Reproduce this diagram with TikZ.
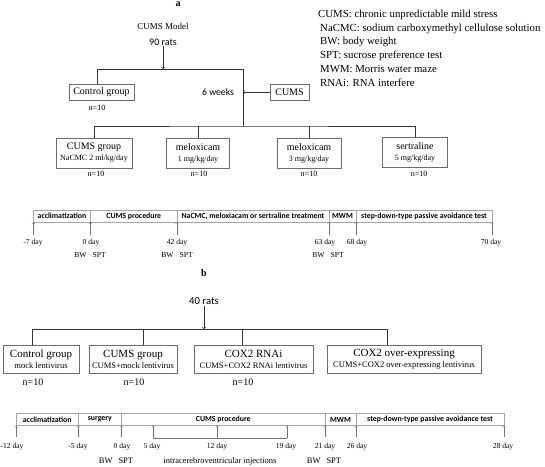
\documentclass[tikz,border=0pt]{standalone}
\usepackage{fontspec}
\setmainfont{Liberation Serif}
\setsansfont{Carlito}
\usetikzlibrary{calc}
\tikzset{
  box/.style={draw=gray!85!black, line width=0.5pt, inner sep=1pt, align=center, minimum height=16pt},
  grp/.style={box, minimum height=30pt},
  tree/.style={draw=black!80, line width=0.6pt},
  cell/.style={draw=gray!70, line width=0.4pt, inner sep=0pt, minimum height=12pt, font=\sffamily\bfseries\fontsize{7.8}{9}\selectfont},
  day/.style={inner sep=0pt, font=\fontsize{7.6}{9}\selectfont},
  tick/.style={->, draw=gray!90!black, line width=0.35pt},
  legend/.style={anchor=west, inner sep=0pt, font=\fontsize{10.8}{12}\selectfont},
}

\begin{document}
\begin{tikzpicture}[x=1pt, y=-1pt]
    \path[use as bounding box] (0,0) rectangle (545,466);

    % part a
    \node[font=\bfseries\fontsize{10}{12}\selectfont] (tagA) at (178,4) {a};
    \node[font=\fontsize{9}{11}\selectfont] (mA) at (163,26) {CUMS Model};
    \node[font=\sffamily\fontsize{10}{12}\selectfont, inner sep=1pt] (rA) at (163,42) {90 rats};

    \node[legend] (lg1) at (318,15)   {CUMS: chronic unpredictable mild stress};
    \node[legend] (lg2) at (320,28.5) {NaCMC: sodium carboxymethyl cellulose solution};
    \node[legend] (lg3) at (320,42)   {BW: body weight};
    \node[legend] (lg4) at (320,55.5) {SPT: sucrose preference test};
    \node[legend] (lg5) at (320,69)   {MWM: Morris water maze};
    \node[legend] (lg6) at (320,82.5) {RNAi: RNA interfere};

    \node[box, minimum width=65pt, font=\fontsize{10}{12}\selectfont] (cA) at (101.5,92) {Control group};
    \node[font=\fontsize{8}{10}\selectfont] (nA0) at (97,108) {n=10};
    \node[font=\sffamily\fontsize{9.7}{12}\selectfont] (wA) at (218,92) {6 weeks};
    \node[box, minimum width=39pt, font=\fontsize{10}{12}\selectfont] (sA) at (289.5,92) {CUMS};

    \coordinate (jA) at (163,69);
    \coordinate (lA) at (97,69);
    \coordinate (tA) at (243,69);
    \coordinate (bA) at (243,126);
    \draw[tree,->] (rA) -- (jA);
    \draw[tree] (lA |- cA.north) -- (lA) -- (tA) -- (bA);
    \draw[tree,->] (sA) -- (sA -| tA);

    \node[grp, minimum width=76pt, font=\fontsize{10}{12}\selectfont] (gA1) at (94,153)
        {CUMS group\\[-1pt]{\fontsize{8}{10}\selectfont NaCMC 2 ml/kg/day}};
    \node[grp, minimum width=63pt, font=\fontsize{10}{12}\selectfont] (gA2) at (198,153)
        {meloxicam\\[-1pt]{\fontsize{8}{10}\selectfont 1 mg/kg/day}};
    \node[grp, minimum width=64pt, font=\fontsize{10}{12}\selectfont] (gA3) at (309,153)
        {meloxicam\\[-1pt]{\fontsize{8}{10}\selectfont 3 mg/kg/day}};
    \node[grp, minimum width=65pt, font=\fontsize{10}{12}\selectfont] (gA4) at (415,152)
        {sertraline\\[-1pt]{\fontsize{8}{10}\selectfont 5 mg/kg/day}};
    \draw[tree] (gA1.north) |- (bA) -| (gA4.north);
    \draw[tree] (gA2.north) -- (gA2.north |- bA);
    \draw[tree] (gA3.north) -- (gA3.north |- bA);

    \node[font=\fontsize{8}{10}\selectfont] (nA1) at (96,174) {n=10};
    \node[font=\fontsize{8}{10}\selectfont] (nA2) at (199,174) {n=10};
    \node[font=\fontsize{8}{10}\selectfont] (nA3) at (309,174) {n=10};
    \node[font=\fontsize{8}{10}\selectfont] (nA4) at (419,174) {n=10};

    % timeline a
    \node[cell, minimum width=57.2pt] (tA1) at (62,216)    {acclimatization};
    \node[cell, minimum width=86.4pt] (tA2) at (133.8,216) {CUMS procedure};
    \node[cell, minimum width=152pt]  (tA3) at (253,216)   {NaCMC, meloxiacam or sertraline treatment};
    \node[cell, minimum width=27pt]   (tA4) at (342.5,216) {MWM};
    \node[cell, minimum width=136pt]  (tA5) at (424,216)   {step-down-type passive avoidance test};

    \foreach \x/\n in {33.4/0, 90.6/1, 177/2, 329/3, 356/4, 492/5} {
        \coordinate (pA\n) at (\x,235);
        \draw[tick] (pA\n) -- (pA\n |- tA1.south);
    }
    \node[day] (dA0) at (33,243)  {-7 day};
    \node[day] (dA1) at (91,243)  {0 day};
    \node[day] (dA2) at (177,243) {42 day};
    \node[day] (dA3) at (325,243) {63 day};
    \node[day] (dA4) at (357,243) {68 day};
    \node[day] (dA5) at (491,243) {70 day};
    \node[day] (bwA1) at (90,255)  {BW\hspace{6pt}SPT};
    \node[day] (bwA2) at (177,255) {BW\hspace{6pt}SPT};
    \node[day] (bwA3) at (328,255) {BW\hspace{6pt}SPT};

    % part b
    \node[font=\bfseries\fontsize{10}{12}\selectfont] (tagB) at (204,273) {b};
    \node[font=\sffamily\fontsize{10.7}{12}\selectfont, inner sep=1pt] (rB) at (204,301) {40 rats};

    \node[grp, minimum height=28pt, minimum width=76pt, font=\fontsize{11}{13}\selectfont] (gB1) at (41,359)
        {Control group\\[-2pt]{\fontsize{8.5}{10}\selectfont mock lentivirus}};
    \node[grp, minimum height=28pt, minimum width=88pt, font=\fontsize{11}{13}\selectfont] (gB2) at (133,359)
        {CUMS group\\[-2pt]{\fontsize{8.5}{10}\selectfont CUMS+mock lentivirus}};
    \node[grp, minimum height=28pt, minimum width=119pt, font=\fontsize{11}{13}\selectfont] (gB3) at (253.5,359)
        {COX2 RNAi\\[-2pt]{\fontsize{8.5}{10}\selectfont CUMS+COX2 RNAi lentivirus}};
    \node[grp, minimum height=28pt, minimum width=154pt, font=\fontsize{11}{13}\selectfont] (gB4) at (404,359)
        {COX2 over-expressing\\[-2pt]{\fontsize{8.5}{10}\selectfont CUMS+COX2 over-expressing lentivirus}};

    \coordinate (jB) at (204,329);
    \coordinate (hB1) at (32,329);
    \coordinate (hB2) at (143,329);
    \coordinate (hB3) at (242,329);
    \coordinate (hB4) at (387,329);
    \draw[tree,->] (rB) -- (jB);
    \draw[tree] (hB1 |- gB1.north) -- (hB1) -- (hB4) -- (hB4 |- gB4.north);
    \draw[tree] (hB2) -- (hB2 |- gB2.north);
    \draw[tree] (hB3) -- (hB3 |- gB3.north);

    \node[font=\fontsize{10}{12}\selectfont] (nB1) at (33,382)  {n=10};
    \node[font=\fontsize{10}{12}\selectfont] (nB2) at (134,382) {n=10};
    \node[font=\fontsize{10}{12}\selectfont] (nB3) at (243,382) {n=10};

    % timeline b
    \begin{scope}[every node/.append style={font=\sffamily\bfseries\fontsize{8.5}{10}\selectfont}]
    \node[cell, minimum width=61.7pt] (tB1) at (47.2,419.5)  {acclimatization};
    \node[cell, minimum width=43.5pt] (tB2) at (99.8,419.5)  {surgery};
    \node[cell, minimum width=203.5pt] (tB3) at (223.3,419.5) {CUMS procedure};
    \node[cell, minimum width=31pt]   (tB4) at (340.5,419.5) {MWM};
    \node[cell, minimum width=148pt]  (tB5) at (430,419.5)   {step-down-type passive avoidance test};
    \end{scope}

    \foreach \x/\n in {16.3/0, 78/1, 121.5/2, 325/3, 356/4, 504/5} {
        \coordinate (pB\n) at (\x,437);
        \draw[tick] (pB\n) -- (pB\n |- tB1.south);
    }
    \coordinate (kB1) at (153,438);
    \coordinate (kB2) at (217,438);
    \coordinate (kB3) at (287,438);
    \draw[draw=gray!90!black, line width=0.35pt] (kB1) -- (kB3);
    \draw[tick] (kB1) -- (kB1 |- tB3.south);
    \draw[tick] (kB2) -- (kB2 |- tB3.south);
    \draw[tick] (kB3) -- (kB3 |- tB3.south);

    \begin{scope}[every node/.append style={font=\fontsize{9}{11}\selectfont}]
    \node[day] (dB0) at (12,447)  {-12 day};
    \node[day] (dB1) at (78,447)  {-5 day};
    \node[day] (dB2) at (122,447) {0 day};
    \node[day] (dB3) at (152,447) {5 day};
    \node[day] (dB4) at (217,447) {12 day};
    \node[day] (dB5) at (286,447) {19 day};
    \node[day] (dB6) at (325,447) {21 day};
    \node[day] (dB7) at (357,447) {26 day};
    \node[day] (dB8) at (503,447) {28 day};
    \end{scope}
    \node[day, font=\fontsize{8.5}{10}\selectfont] (bwB1) at (116,461) {BW\hspace{6pt}SPT};
    \node[day, font=\fontsize{8.5}{10}\selectfont] (icvB) at (220,461) {intracerebroventricular injections};
    \node[day, font=\fontsize{8.5}{10}\selectfont] (bwB2) at (324,461) {BW\hspace{6pt}SPT};
\end{tikzpicture}
\end{document}
